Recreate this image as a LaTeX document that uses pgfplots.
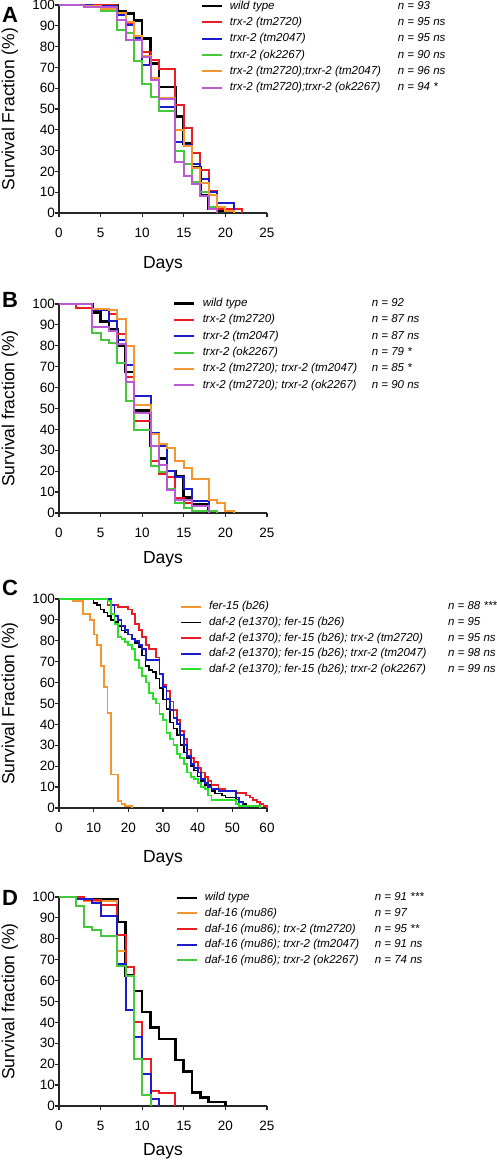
\documentclass[border=0pt]{standalone}
\usepackage{fontspec}
\setmainfont{Liberation Sans}
\usepackage{pgfplots}
\pgfplotsset{compat=1.18}
\definecolor{cred}{RGB}{232,30,36}
\definecolor{cblue}{RGB}{28,28,200}
\definecolor{cgreen}{RGB}{70,200,60}
\definecolor{cgreenC}{RGB}{40,225,40}
\definecolor{corange}{RGB}{243,150,50}
\definecolor{cpurple}{RGB}{185,90,212}
\pgfplotsset{
  surv/.style={
    scale only axis, width=208pt, height=209pt,
    xmin=0, ymin=0, ymax=100,
    axis x line*=bottom, axis y line*=left,
    axis line style={line width=1.2pt, black!85},
    tick style={line width=1.2pt, black!85},
    major tick length=4pt, tick align=outside,
    ytick={0,10,...,100},
    tick label style={font=\fontsize{13.5}{14}\selectfont},
    /pgf/number format/assume math mode=true,
    yticklabel style={inner sep=0pt},
    xticklabel style={inner sep=0pt, yshift=-11pt},
    label style={font=\fontsize{17.5}{18}\selectfont},
    clip=false,
    const plot, no markers,
    legend cell align=left,
    legend image code/.code={\draw[##1] (0pt,0pt) -- (20pt,0pt);},
    legend style={draw=none, fill=none, anchor=north west, inner xsep=0pt, inner ysep=0pt,
      font=\fontsize{11.5}{12}\selectfont\itshape, row sep=5.3pt,
      nodes={inner sep=0pt, text height=8.5pt, text depth=2.5pt},
      /tikz/every odd column/.append style={column sep=7pt}},
  },
  lw/.style={line width=2pt},
  lwb/.style={line width=2.6pt},
}
\begin{document}
\begin{tikzpicture}[x=1pt,y=1pt]
% ---------------- Panel A ----------------
\begin{axis}[surv, at={(59pt,948pt)}, anchor=south west, height=208pt,
  xmax=25, xtick={0,5,...,25},
  xlabel={Days}, ylabel={Survival Fraction (\%)},
  xlabel style={at={(axis description cs:0.5,-0.245)}, anchor=center},
  ylabel style={at={(axis description cs:-0.236,0.5)}, anchor=center},
  legend style={at={(0.678,1.0216)}}]
\addplot[black, lwb] coordinates {(0,100)(7,97)(8,96)(9,92.5)(10,84)(11,72)(12,60.5)(14,46.5)(15,33.5)(16,22)(17,8.5)(18,2)(19,1)(21,0)};
\addlegendentry{\makebox[168pt][l]{wild type}n = 93}
\addplot[cred, lw] coordinates {(0,100)(7,95)(8,91)(9,84)(10,77.5)(11,73.5)(12,69)(14,52)(15,40.7)(16,29)(17,20.7)(18,10.7)(19,2)(22,0)};
\addlegendentry{\makebox[168pt][l]{trx-2 (tm2720)}n = 95 ns}
\addplot[cblue, lw] coordinates {(0,100)(4,99.5)(7,95)(8,90.5)(9,84)(10,71)(11,64)(12,51)(14,34)(15,32.5)(16,23.5)(17,16.5)(18,10)(19,5)(21,0)};
\addlegendentry{\makebox[168pt][l]{trxr-2 (tm2047)}n = 95 ns}
\addplot[cgreen, lw] coordinates {(0,100)(3,99)(5,97)(7,88)(8,86.5)(9,73)(10,62)(11,56)(12,49)(14,30)(15,23.5)(16,15)(17,10)(18,3)(19,0)};
\addlegendentry{\makebox[168pt][l]{trxr-2 (ok2267)}n = 90 ns}
\addplot[corange, lw] coordinates {(0,100)(3,99.5)(5,98)(7,96)(8,92)(9,85)(10,75.5)(11,65)(12,55.5)(14,40)(15,32)(16,21.5)(17,14.5)(18,8.5)(19,3)(20,1)(21,0)};
\addlegendentry{\makebox[168pt][l]{trx-2 (tm2720);trxr-2 (tm2047)}n = 96 ns}
\addplot[cpurple, lw] coordinates {(0,100)(3,99)(7,93)(8,83)(10,75)(11,64)(12,55)(14,24.5)(15,18)(16,14)(17,8)(18,2)(19,0)};
\addlegendentry{\makebox[168pt][l]{trx-2 (tm2720);trxr-2 (ok2267)}n = 94 *}
\end{axis}
% ---------------- Panel B ----------------
\begin{axis}[surv, at={(59pt,648pt)}, anchor=south west,
  xmax=25, xtick={0,5,...,25},
  xlabel={Days}, ylabel={Survival fraction (\%)},
  xlabel style={at={(axis description cs:0.5,-0.2225)}, anchor=center},
  ylabel style={at={(axis description cs:-0.236,0.5)}, anchor=center},
  legend style={at={(0.548,1.029)}}]
\addplot[black, lwb] coordinates {(0,100)(4,96)(5,91.5)(6,88)(7,80)(8,67.5)(9,49)(11,32)(12,26)(13,20)(14,17.5)(15,7.5)(16,4)(18,0)};
\addlegendentry{\makebox[169pt][l]{wild type}n = 92}
\addplot[cred, lw] coordinates {(0,100)(2,98)(4,97)(6,95)(7,85.5)(8,65)(9,44)(11,25)(12,18.5)(13,17)(14,7)(15,5)(16,1)(18,0)};
\addlegendentry{\makebox[169pt][l]{trx-2 (tm2720)}n = 87 ns}
\addplot[cblue, lw] coordinates {(0,100)(4,97)(6,92)(7,83)(8,71)(9,56)(11,38.5)(12,32)(13,20)(14,17)(15,11.5)(16,5.7)(18,0)};
\addlegendentry{\makebox[169pt][l]{trxr-2 (tm2047)}n = 87 ns}
\addplot[cgreen, lw] coordinates {(0,100)(4,86)(5,83)(6,81.5)(7,72)(8,53.5)(9,39.5)(11,22.5)(12,19.5)(13,11.5)(14,5)(15,2.5)(16,1)(19,0)};
\addlegendentry{\makebox[169pt][l]{trxr-2 (ok2267)}n = 79 *}
\addplot[corange, lw] coordinates {(0,100)(4,97.5)(6,97)(7,93)(8,80)(9,51.5)(11,38)(12,33)(13,31)(14,25)(15,21.5)(16,16.5)(18,6)(19,5)(20,1)(21,0)};
\addlegendentry{\makebox[169pt][l]{trx-2 (tm2720); trxr-2 (tm2047)}n = 85 *}
\addplot[cpurple, lw] coordinates {(0,100)(4,89)(6,87)(7,81)(8,62.5)(9,48)(11,32)(12,23)(13,11)(14,6)(16,3.5)(18,0)};
\addlegendentry{\makebox[169pt][l]{trx-2 (tm2720); trxr-2 (ok2267)}n = 90 ns}
\end{axis}
% ---------------- Panel C ----------------
\begin{axis}[surv, at={(59pt,353pt)}, anchor=south west,
  xmax=60, xtick={0,10,...,60},
  xlabel={Days}, ylabel={Survival Fraction (\%)},
  xlabel style={at={(axis description cs:0.5,-0.239)}, anchor=center},
  ylabel style={at={(axis description cs:-0.236,0.5)}, anchor=center},
  legend style={at={(0.582,0.989)}, row sep=4.6pt}]
\addplot[corange, line width=1.8pt] coordinates {(0,100)(4,99)(7,93)(9,90)(10,83)(11,78)(12,68)(13,58)(14,45.5)(15,16)(17,3.5)(18,2)(19,1)(21,0)};
\addlegendentry{\makebox[239pt][l]{fer-15 (b26)}n = 88 ***}
\addplot[black, line width=1.6pt] coordinates {(0,100)(10,98)(11,97)(12,95)(13,93.5)(14,92)(15,90)(16,89)(17,87)(18,85)(19,84)(20,83)(21,81)(22,79)(23,77)(24,73)(25,68)(26,66)(27,65)(28,62)(29,57.5)(30,52)(31,47.5)(32,41)(33,38)(34,35)(35,30)(36,26.5)(37,24)(38,20)(39,18)(40,15)(41,13)(42,11)(44,8)(45,7)(47,6)(48,5)(51,4)(52,3)(53,2)(54,1)(55,0)};
\addlegendentry{\makebox[239pt][l]{daf-2 (e1370); fer-15 (b26)}n = 95}
\addplot[cred, line width=1.8pt] coordinates {(0,100)(14,97)(17,96)(20,95)(21,93)(22,88)(23,85)(24,82)(25,78)(26,76)(28,72)(29,64)(30,59)(31,56)(32,51)(33,47)(34,42)(35,37)(36,33)(37,28)(38,24)(39,22)(40,19)(41,17)(42,15)(43,13)(44,11)(46,9)(48,8)(51,7)(54,6)(55,5)(56,4)(57,3)(58,2)(59,1)(60,0)};
\addlegendentry{\makebox[239pt][l]{daf-2 (e1370); fer-15 (b26); trx-2 (tm2720)}n = 95 ns}
\addplot[cblue, line width=1.8pt] coordinates {(0,100)(15,97)(16,92)(17,90)(18,87)(19,85)(20,83)(21,81)(22,80)(23,78)(24,76)(25,71)(29,64)(30,58)(31,52)(32,47)(33,43)(34,40)(35,35)(36,30)(37,25)(38,21)(39,19)(40,17)(41,14)(42,12)(43,10)(44,9)(46,8)(51,5)(52,3)(53,1)(54,0)};
\addlegendentry{\makebox[239pt][l]{daf-2 (e1370); fer-15 (b26); trxr-2 (tm2047)}n = 98 ns}
\addplot[cgreenC, line width=1.8pt] coordinates {(0,100)(14,99)(15,93)(16,88)(17,82)(18,81)(19,79.5)(20,78)(21,76)(22,71)(23,67)(24,63)(25,60)(26,55)(27,52)(28,50)(29,45)(30,42)(31,36)(32,33)(33,30)(34,26)(35,24)(36,21)(37,17)(38,15)(39,14)(40,12)(41,10)(42,9)(43,6)(44,4)(51,2)(52,1)(58,0)};
\addlegendentry{\makebox[239pt][l]{daf-2 (e1370); fer-15 (b26); trxr-2 (ok2267)}n = 99 ns}
\end{axis}
% ---------------- Panel D ----------------
\begin{axis}[surv, at={(59pt,55pt)}, anchor=south west,
  xmax=25, xtick={0,5,...,25},
  xlabel={Days}, ylabel={Survival fraction (\%)},
  xlabel style={at={(axis description cs:0.5,-0.218)}, anchor=center},
  ylabel style={at={(axis description cs:-0.236,0.5)}, anchor=center},
  legend style={at={(0.558,1.023)}, row sep=4.6pt}]
\addplot[black, lwb] coordinates {(0,100)(3,99)(7,88)(8,62.5)(9,55)(10,45)(11,37.5)(12,32)(14,22)(15,16.5)(16,6.5)(17,4)(18,2)(20,0)};
\addlegendentry{\makebox[170pt][l]{wild type}n = 91 ***}
\addplot[corange, lw] coordinates {(0,100)(2,99)(3,98)(7,74)(8,62)(9,22.5)(10,5.5)(11,0)};
\addlegendentry{\makebox[170pt][l]{daf-16 (mu86)}n = 97}
\addplot[cred, lw] coordinates {(0,100)(3,98.5)(5,96)(7,82)(8,66.5)(9,40)(10,22.5)(11,7)(12,6)(14,0)};
\addlegendentry{\makebox[170pt][l]{daf-16 (mu86); trx-2 (tm2720)}n = 95 **}
\addplot[cblue, lw] coordinates {(0,100)(2,99)(4,97)(5,91)(7,68)(8,46)(9,33)(10,15.5)(11,3.5)(12,0)};
\addlegendentry{\makebox[170pt][l]{daf-16 (mu86); trxr-2 (tm2047)}n = 91 ns}
\addplot[cgreen, lw] coordinates {(0,100)(2,95.5)(3,85.5)(4,84)(5,81.5)(7,67)(8,62)(9,22.5)(10,5.5)(11,0)};
\addlegendentry{\makebox[170pt][l]{daf-16 (mu86); trxr-2 (ok2267)}n = 74 ns}
\end{axis}
% panel letters
\node[font=\fontsize{22}{22}\selectfont\bfseries] at (10pt,1146.5pt) {A};
\node[font=\fontsize{22}{22}\selectfont\bfseries] at (10pt,861pt) {B};
\node[font=\fontsize{22}{22}\selectfont\bfseries] at (10pt,573.5pt) {C};
\node[font=\fontsize{22}{22}\selectfont\bfseries] at (10pt,263.5pt) {D};
\pgfresetboundingbox
\useasboundingbox (0pt,0pt) rectangle (497pt,1161pt);
\end{tikzpicture}
\end{document}
